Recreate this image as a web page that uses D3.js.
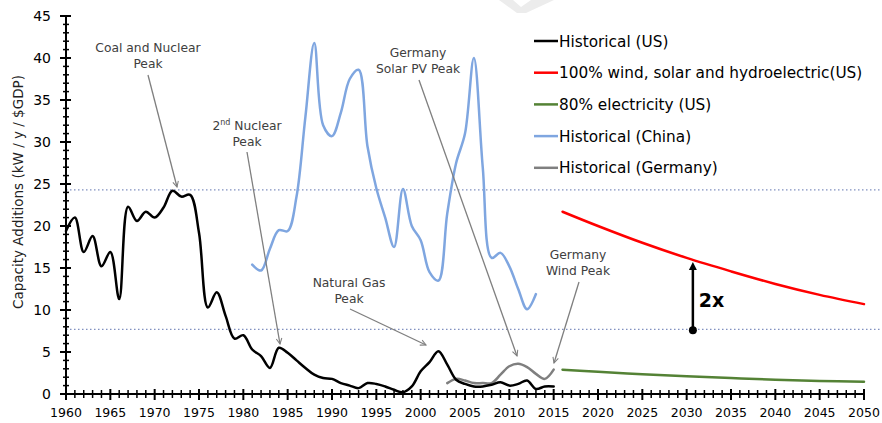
<!DOCTYPE html>
<html><head><meta charset="utf-8">
<script src="https://cdn.jsdelivr.net/npm/d3@7"></script>
<style>body{margin:0;background:#fff}svg{display:block}text{font-family:"DejaVu Sans",sans-serif}</style>
</head><body><svg id="c" width="882" height="423"></svg>
<script>
const usYears = d3.range(1960, 2016);
const usValues = [19.4,21.0,16.9,18.8,15.2,16.9,11.3,22.3,20.6,21.7,21.0,22.2,24.2,23.5,23.7,19.2,10.3,12.1,9.3,6.6,7.0,5.3,4.5,3.1,5.5,4.9,4.0,3.1,2.3,1.9,1.8,1.3,1.0,0.7,1.3,1.2,0.9,0.5,0.2,0.9,2.7,3.8,5.1,3.5,1.7,1.2,0.9,0.9,1.1,1.4,1.0,1.2,1.6,0.6,0.9,0.9];
const chinaYears = d3.range(1981, 2014);
const chinaValues = [15.4,14.7,17.3,19.5,19.4,23.5,33.0,41.8,32.0,30.7,33.5,37.5,38.6,29.5,24.5,21.0,17.5,24.4,20.0,18.3,14.5,13.5,21.5,27.5,31.0,40.0,27.0,16.2,16.8,15.2,12.5,10.1,11.9];
const germanyYears = d3.range(2003, 2016);
const germanyValues = [1.3,1.8,1.6,1.3,1.3,1.3,2.3,3.3,3.6,3.2,2.4,1.8,2.9];
const scenarioYears = [2016,2020,2025,2030,2035,2040,2045,2050];
const windSolarValues = [21.7,20.0,18.0,16.2,14.6,13.1,11.8,10.7];
const electricityValues = [2.9,2.65,2.35,2.1,1.9,1.7,1.55,1.45];
const refLines = [24.3, 7.7];
const xTicks = d3.range(1960, 2051, 5);
const yTicks = d3.range(0, 46, 5);
const legendLabels = ["Historical (US)","100% wind, solar and hydroelectric(US)","80% electricity (US)","Historical (China)","Historical (Germany)"];
const legendColors = ["#000000","#ff0000","#548235","#7fa6e0","#7f7f7f"];
const annotations = [
  {lines:["Coal and Nuclear","Peak"], tx:148, ty:52, from:[148,75], to:[177,187]},
  {lines:["2nd Nuclear","Peak"], tx:247, ty:130, from:[247,152], to:[280,344], sup:true},
  {lines:["Natural Gas","Peak"], tx:349, ty:287, from:[350,309], to:[426,345]},
  {lines:["Germany","Solar PV Peak"], tx:418, ty:57, from:[419,80], to:[517,356]},
  {lines:["Germany","Wind Peak"], tx:578, ty:259, from:[579,282], to:[554,363]}
];

const svg = d3.select("#c");
const x = d3.scaleLinear().domain([1960,2050]).range([66,864]);
const y = d3.scaleLinear().domain([0,45]).range([394,16]);

// faint watermark at top
svg.append("polygon").attr("points","499,0 513,0 521,7 531,0 554,0 526,13 517,13").attr("fill","#ececec");

svg.selectAll(".ref").data(refLines).enter().append("line")
  .attr("x1",66).attr("x2",882).attr("y1",d=>y(d)).attr("y2",d=>y(d))
  .attr("stroke","#8090c0").attr("stroke-width",1.3).attr("stroke-dasharray","1.5,2.5");

const line = d3.line().x(d=>x(d[0])).y(d=>y(d[1])).curve(d3.curveCatmullRom.alpha(0.5));
function series(years, vals, color){
  svg.append("path").datum(years.map((yr,i)=>[yr,vals[i]]))
    .attr("d",line).attr("fill","none").attr("stroke",color).attr("stroke-width",2.5)
    .attr("stroke-linejoin","round").attr("stroke-linecap","round");
}
series(chinaYears, chinaValues, legendColors[3]);
series(germanyYears, germanyValues, legendColors[4]);
series(usYears, usValues, legendColors[0]);
series(scenarioYears, windSolarValues, legendColors[1]);
series(scenarioYears, electricityValues, legendColors[2]);

const xAxis = svg.append("g");
xAxis.append("line").attr("x1",66).attr("x2",864).attr("y1",394).attr("y2",394).attr("stroke","#000").attr("stroke-width",2);
xAxis.selectAll(".mt").data(d3.range(1960,2051)).enter().append("line")
  .attr("x1",d=>x(d)).attr("x2",d=>x(d))
  .attr("y1",d=>d%5===0?389:390).attr("y2",d=>d%5===0?400:398)
  .attr("stroke","#000").attr("stroke-width",d=>d%5===0?2:1.5);
xAxis.selectAll(".tl").data(xTicks).enter().append("text")
  .attr("x",d=>x(d)).attr("y",417).attr("text-anchor","middle").attr("font-size",12.5).attr("fill","#000").text(d=>d);

const yAxis = svg.append("g");
yAxis.append("line").attr("x1",66).attr("x2",66).attr("y1",16).attr("y2",394).attr("stroke","#000").attr("stroke-width",2);
yAxis.selectAll(".mt").data(d3.range(0,46)).enter().append("line")
  .attr("y1",d=>y(d)).attr("y2",d=>y(d))
  .attr("x1",d=>d%5===0?60:63).attr("x2",d=>d%5===0?71:69)
  .attr("stroke","#000").attr("stroke-width",d=>d%5===0?2:1.5);
yAxis.selectAll(".tl").data(yTicks).enter().append("text")
  .attr("x",51).attr("y",d=>y(d)+5).attr("text-anchor","end").attr("font-size",14).attr("fill","#000").text(d=>d);
svg.append("text").attr("transform","translate(23,192) rotate(-90)").attr("text-anchor","middle")
  .attr("font-size",13.5).attr("fill","#222").text("Capacity Additions  (kW / y / $GDP)");

svg.append("defs").append("marker").attr("id","ga").attr("viewBox","0 0 10 10").attr("refX",9).attr("refY",5)
  .attr("markerWidth",7).attr("markerHeight",7).attr("orient","auto").attr("markerUnits","userSpaceOnUse")
  .append("path").attr("d","M1,1 L9,5 L1,9").attr("fill","none").attr("stroke","#7f7f7f").attr("stroke-width",1.5);
annotations.forEach(a=>{
  a.lines.forEach((t,i)=>{
    const tx = svg.append("text").attr("x",a.tx).attr("y",a.ty+i*15.5).attr("text-anchor","middle")
      .attr("font-size",12.3).attr("fill","#404040");
    if(a.sup && i===0){
      tx.append("tspan").text("2");
      tx.append("tspan").attr("font-size",8).attr("dy",-5).text("nd");
      tx.append("tspan").attr("dy",5).text(" Nuclear");
    } else tx.text(t);
  });
  svg.append("line").attr("x1",a.from[0]).attr("y1",a.from[1]).attr("x2",a.to[0]).attr("y2",a.to[1])
    .attr("stroke","#7f7f7f").attr("stroke-width",1.3).attr("marker-end","url(#ga)");
});

const ax = x(2030.7);
svg.append("circle").attr("cx",ax).attr("cy",y(7.6)).attr("r",4).attr("fill","#000");
svg.append("line").attr("x1",ax).attr("x2",ax).attr("y1",y(7.6)).attr("y2",y(15.0)).attr("stroke","#000").attr("stroke-width",2.5);
svg.append("path").attr("d",`M${ax-4},${y(15.0)+2} L${ax},${y(15.0)-6} L${ax+4},${y(15.0)+2} Z`).attr("fill","#000");
svg.append("text").attr("x",ax+6).attr("y",y(10.3)).attr("font-size",19).attr("font-weight","bold").attr("fill","#000").text("2x");

const lg = svg.append("g");
legendLabels.forEach((l,i)=>{
  const yy = 41 + i*31.7;
  lg.append("line").attr("x1",534).attr("x2",558).attr("y1",yy).attr("y2",yy).attr("stroke",legendColors[i]).attr("stroke-width",2.5);
  lg.append("text").attr("x",559).attr("y",yy+5.5).attr("font-size",15.3).attr("fill","#000").text(l);
});
</script></body></html>
